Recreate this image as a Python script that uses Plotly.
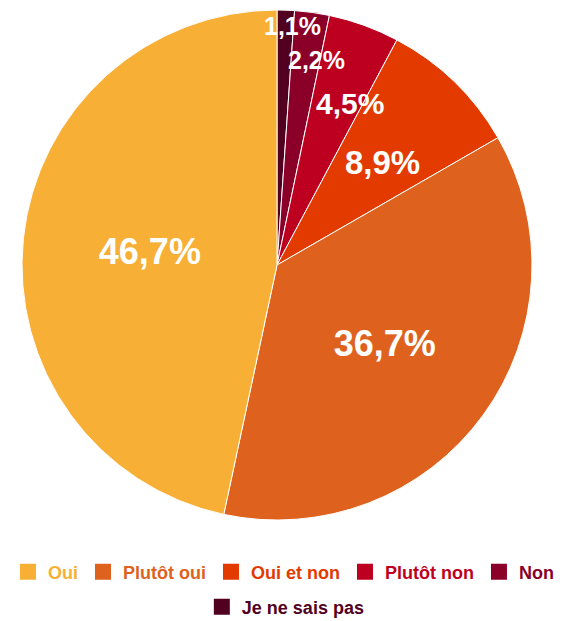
import math
import plotly.graph_objects as go

# survey answers, in legend order
labels = ['Oui', 'Plutôt oui', 'Oui et non', 'Plutôt non', 'Non', 'Je ne sais pas']
values = [46.7, 36.7, 8.9, 4.5, 2.2, 1.1]
colors = ['#F7B035', '#DE621D', '#E33A00', '#BE0020', '#8B0029', '#520020']

W, H = 567, 621
OFF = 8  # page offset of the plot div
FONT = 'Liberation Sans'

def pct(v):
    return f"{v:.1f}%".replace('.', ',')

# pie goes clockwise from 12 o'clock starting with the last answer
order = list(range(len(labels)))[::-1]
dom_x = [(22 - OFF) / W, (532 - OFF) / W]
dom_y = [1 - (520 - OFF) / H, 1 - (10 - OFF) / H]

big = [v >= 20 for v in values]
fig = go.Figure()
fig.add_trace(go.Pie(
    labels=[labels[i] for i in order],
    values=[values[i] for i in order],
    text=[pct(values[i]) if big[i] else '' for i in order],
    textinfo='text',
    sort=False,
    direction='clockwise',
    rotation=0,
    marker=dict(colors=[colors[i] for i in order], line=dict(color='white', width=1)),
    textposition='inside',
    insidetextorientation='horizontal',
    textfont=dict(color='white', size=36, family=FONT, weight='bold'),
    domain=dict(x=dom_x, y=dom_y),
    showlegend=False,
    hoverinfo='label+percent',
))

# labels of the thinner slices: the thinner the slice, the nearer the rim
# and the further along the slice they sit
cx, cy = sum(dom_x) / 2, sum(dom_y) / 2
r_px = (dom_x[1] - dom_x[0]) * W / 2
total = sum(values)
cum = 0
for i in order:
    v = values[i]
    ang = (cum + v * (1 - v / 20)) / total * 2 * math.pi
    cum += v
    if big[i]:
        continue
    r = r_px * (0.956 - 0.173 * math.log(v))
    size = 33 if v > 6 else (30 if v > 3 else 25)
    fig.add_annotation(
        x=cx + r * math.sin(ang) / W, y=cy + r * math.cos(ang) / H,
        xref='paper', yref='paper', xanchor='center', yanchor='middle', showarrow=False,
        text=pct(v), font=dict(color='white', size=size, family=FONT, weight='bold'),
    )

# legend entries: five on the first row, the last one on the second
for i, (lab, col) in enumerate(zip(labels, colors)):
    fig.add_trace(go.Scatter(
        x=[None], y=[None], mode='markers',
        marker=dict(symbol='square', size=16, color=col),
        name=f"<span style='color:{col}'>{lab}</span>",
        legend='legend2' if i == len(labels) - 1 else 'legend',
    ))

leg = dict(orientation='h', yanchor='middle',
           font=dict(family=FONT, size=18, weight='bold'), itemwidth=30,
           bgcolor='rgba(0,0,0,0)')
fig.update_layout(
    width=W, height=H,
    margin=dict(l=0, r=0, t=0, b=0),
    paper_bgcolor='white', plot_bgcolor='white',
    xaxis=dict(visible=False), yaxis=dict(visible=False),
    legend=dict(leg, x=0, xanchor='left', y=1 - (572 - OFF) / H),
    legend2=dict(leg, x=0.49, xanchor='center', y=1 - (607 - OFF) / H),
)

fig.write_html("out.html")
